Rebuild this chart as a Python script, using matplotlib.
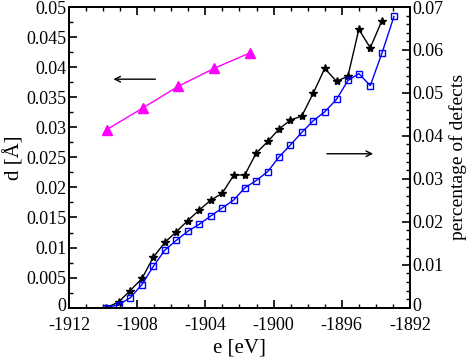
import numpy as np
import matplotlib
matplotlib.use("Agg")
import matplotlib.pyplot as plt
import matplotlib.transforms as mtransforms
from matplotlib.ticker import MultipleLocator

plt.rcParams['font.family'] = ['Liberation Serif', 'DejaVu Serif']
plt.rcParams['axes.unicode_minus'] = False

# magenta: d [A] (left axis)
e_d = [-1909.79, -1907.68, -1905.60, -1903.49, -1901.36]
d_vals = [0.0296, 0.0332, 0.0368, 0.0398, 0.0424]

# black / blue: percentage of defects (right axis)
e_pts = [-1909.83, -1909.09, -1908.41, -1907.72, -1907.06, -1906.38, -1905.70,
         -1905.03, -1904.37, -1903.70, -1903.02, -1902.33, -1901.69, -1901.02,
         -1900.34, -1899.68, -1899.01, -1898.35, -1897.68, -1897.00, -1896.31,
         -1895.64, -1895.00, -1894.33, -1893.65, -1892.94]
black_vals = [0.0, 0.0013, 0.0040, 0.0068, 0.0117, 0.0152, 0.0177, 0.0203,
              0.0227, 0.0250, 0.0266, 0.0309, 0.0309, 0.0360, 0.0387, 0.0416,
              0.0437, 0.0446, 0.0499, 0.0557, 0.0527, 0.0539, 0.0648, 0.0605,
              0.0668]
blue_vals = [0.0, 0.0007, 0.0023, 0.0054, 0.0096, 0.0134, 0.0157, 0.0178,
             0.0194, 0.0213, 0.0232, 0.0251, 0.0279, 0.0296, 0.0317, 0.0351,
             0.0379, 0.0408, 0.0435, 0.0456, 0.0485, 0.0529, 0.0545, 0.0517,
             0.0592, 0.0678]

fig = plt.figure(figsize=(4.69, 3.58), dpi=100)
ax = fig.add_axes([0.1471, 0.1405, 0.7271, 0.8399])
ax2 = ax.twinx()

ax.plot(e_d, d_vals, color='#ff00ff', lw=1.0, marker='^', ms=7, mec='#ff00ff', mfc='#ff00ff')
ax2.plot(e_pts[:len(black_vals)], black_vals, color='black', lw=1.0, marker='*', ms=6)
ax2.plot(e_pts, blue_vals, color='blue', lw=1.0, marker='s', ms=5, mfc='none', mew=1.0)

ax.set_xlim(-1912, -1892)
ax.set_ylim(0, 0.05)
ax2.set_ylim(0, 0.07)

ax.xaxis.set_major_locator(MultipleLocator(4))
ax.xaxis.set_minor_locator(MultipleLocator(1))
ax.yaxis.set_minor_locator(MultipleLocator(0.0025))
ax2.yaxis.set_minor_locator(MultipleLocator(0.002))

ax.set_yticks([0, 0.005, 0.01, 0.015, 0.02, 0.025, 0.03, 0.035, 0.04, 0.045, 0.05])
ax.set_yticklabels(['0', '0.005', '0.01', '0.015', '0.02', '0.025', '0.03',
                    '0.035', '0.04', '0.045', '0.05'])
ax2.set_yticks([0, 0.01, 0.02, 0.03, 0.04, 0.05, 0.06, 0.07])
ax2.set_yticklabels(['0', '0.01', '0.02', '0.03', '0.04', '0.05', '0.06', '0.07'])

ax.tick_params(axis='x', which='both', direction='in', top=True, labelsize=13, pad=7)
ax.tick_params(axis='y', which='both', direction='in', right=False, labelsize=13, pad=2)
ax2.tick_params(axis='y', which='both', direction='in', labelsize=13, pad=2)
for a in (ax, ax2):
    a.tick_params(which='major', length=6, width=1.2)
    a.tick_params(which='minor', length=3, width=1.0)
    for s in a.spines.values():
        s.set_linewidth(1.3)

# nudge the two "0" labels up a little so they clear the x tick labels
shift = mtransforms.ScaledTranslation(0, 2.5 / 72, fig.dpi_scale_trans)
for lab in (ax.get_yticklabels()[0], ax2.get_yticklabels()[0]):
    lab.set_transform(lab.get_transform() + shift)

ax.set_xlabel('e [eV]', fontsize=15, labelpad=3)
ax.set_ylabel('d [Å]', fontsize=15, labelpad=1)
ax2.set_ylabel('percentage of defects', fontsize=14, labelpad=4)

ax.annotate('', xy=(-1909.56, 0.038), xytext=(-1906.77, 0.038),
            arrowprops=dict(arrowstyle='->', color='black', lw=1.0))
ax.annotate('', xy=(-1894.0, 0.0256), xytext=(-1897.04, 0.0256),
            arrowprops=dict(arrowstyle='->', color='black', lw=1.0))

fig.savefig('out.png', dpi=100)
